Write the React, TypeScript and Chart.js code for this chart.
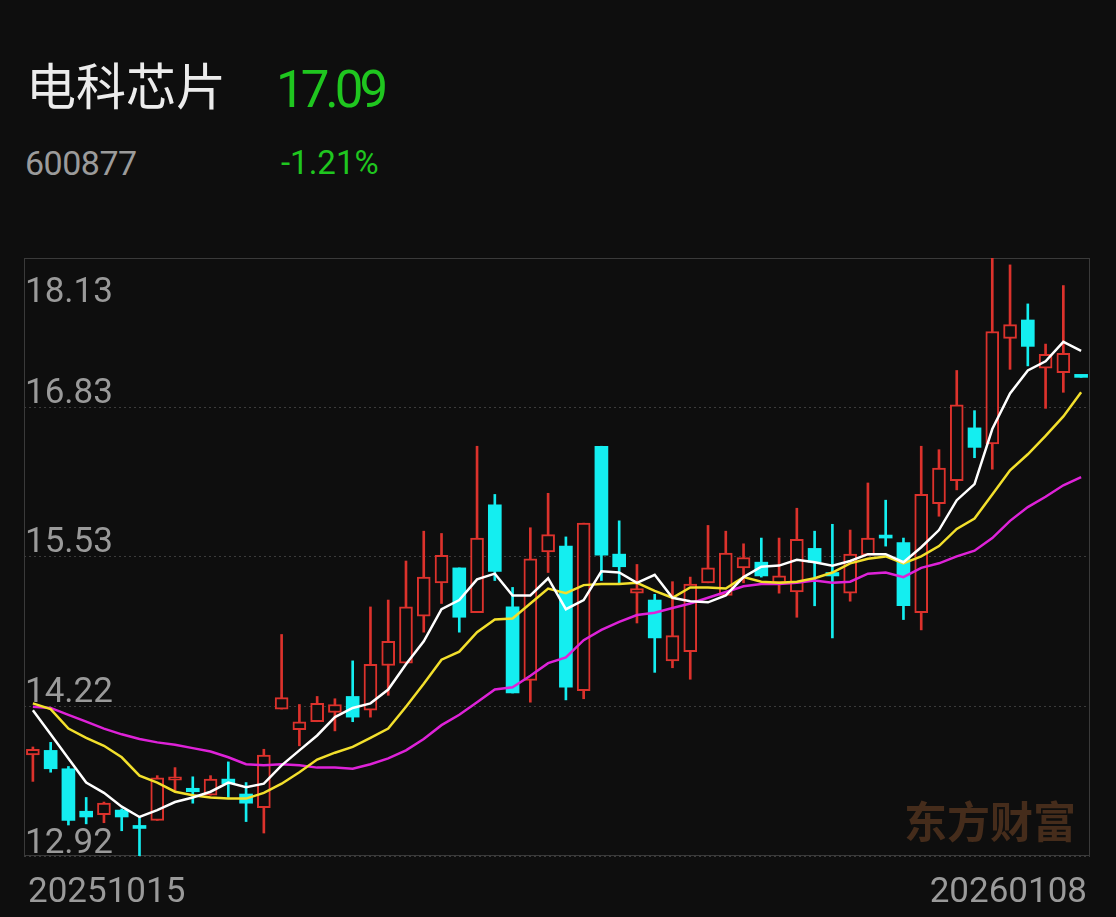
import React, { useEffect, useRef } from 'react';
import { Chart, registerables } from 'chart.js';

Chart.register(...registerables);

const stockName = '电科芯片';
const stockCode = '600877';
const lastPrice = '17.09';
const changePct = '-1.21%';
const watermark = '东方财富';

const dates = [
  '20251015', '20251016', '20251017', '20251020', '20251021', '20251022', '20251023', '20251024', '20251027', '20251028',
  '20251029', '20251030', '20251031', '20251103', '20251104', '20251105', '20251106', '20251107', '20251110', '20251111',
  '20251112', '20251113', '20251114', '20251117', '20251118', '20251119', '20251120', '20251121', '20251124', '20251125',
  '20251126', '20251127', '20251128', '20251201', '20251202', '20251203', '20251204', '20251205', '20251208', '20251209',
  '20251210', '20251211', '20251212', '20251215', '20251216', '20251217', '20251218', '20251219', '20251222', '20251223',
  '20251224', '20251225', '20251226', '20251229', '20251230', '20251231', '20260105', '20260106', '20260107', '20260108',
];

const opens = [
  13.80, 13.84, 13.68, 13.31, 13.28, 13.32, 13.18, 13.23, 13.58, 13.51,
  13.45, 13.59, 13.46, 13.34, 14.20, 14.02, 14.09, 14.17, 14.31, 14.19,
  14.58, 14.60, 15.01, 15.30, 15.43, 15.04, 15.98, 15.09, 14.45, 15.57,
  15.62, 14.36, 16.49, 15.55, 15.21, 15.15, 14.62, 14.70, 15.30, 15.19,
  15.43, 15.48, 15.30, 15.22, 15.60, 15.39, 15.21, 15.54, 15.70, 15.65,
  15.04, 15.99, 16.19, 16.65, 16.51, 17.43, 17.59, 17.17, 17.13, 17.09,
];
const highs = [
  13.87, 13.91, 13.70, 13.43, 13.39, 13.33, 13.26, 13.62, 13.69, 13.61,
  13.62, 13.74, 13.56, 13.85, 14.85, 14.24, 14.31, 14.29, 14.62, 15.09,
  15.15, 15.49, 15.75, 15.73, 15.43, 16.49, 16.07, 15.26, 15.78, 16.08,
  15.70, 15.82, 16.49, 15.84, 15.46, 15.20, 15.31, 15.35, 15.80, 15.75,
  15.64, 15.69, 15.69, 15.95, 15.75, 15.81, 15.76, 16.17, 16.02, 15.69,
  16.49, 16.46, 17.15, 16.80, 18.13, 18.07, 17.73, 17.38, 17.89, 17.09,
];
const lows = [
  13.57, 13.65, 13.19, 13.20, 13.21, 13.14, 12.92, 13.23, 13.49, 13.38,
  13.45, 13.43, 13.22, 13.12, 14.20, 13.88, 14.09, 14.01, 14.09, 14.13,
  14.32, 14.60, 14.87, 15.12, 14.87, 15.04, 15.32, 14.34, 14.26, 15.39,
  14.28, 14.29, 15.32, 15.30, 14.95, 14.52, 14.56, 14.46, 15.30, 15.19,
  15.30, 15.35, 15.21, 15.00, 15.10, 14.82, 15.14, 15.54, 15.62, 14.98,
  14.89, 15.88, 16.11, 16.39, 16.29, 17.16, 17.19, 16.82, 16.96, 17.09,
];
const closes = [
  13.85, 13.68, 13.23, 13.26, 13.38, 13.26, 13.16, 13.60, 13.61, 13.48,
  13.59, 13.55, 13.38, 13.80, 14.30, 14.09, 14.25, 14.24, 14.13, 14.59,
  14.79, 15.09, 15.35, 15.54, 15.00, 15.69, 15.40, 14.34, 15.51, 15.72,
  14.39, 15.82, 15.54, 15.44, 15.25, 14.82, 14.84, 15.29, 15.43, 15.56,
  15.52, 15.36, 15.36, 15.68, 15.48, 15.36, 15.55, 15.69, 15.69, 15.10,
  16.07, 16.30, 16.85, 16.48, 17.49, 17.55, 17.36, 17.29, 17.30, 17.09,
];

const ma5 = [
  14.19, 13.98, 13.77, 13.56, 13.47, 13.35, 13.26, 13.32, 13.39, 13.43,
  13.48, 13.56, 13.52, 13.55, 13.71, 13.84, 13.97, 14.13, 14.21, 14.25,
  14.37, 14.59, 14.79, 15.07, 15.15, 15.33, 15.38, 15.19, 15.19, 15.34,
  15.07, 15.15, 15.40, 15.39, 15.30, 15.37, 15.17, 15.14, 15.13, 15.19,
  15.35, 15.44, 15.45, 15.50, 15.48, 15.45, 15.49, 15.55, 15.55, 15.48,
  15.61, 15.76, 16.02, 16.16, 16.64, 16.95, 17.15, 17.23, 17.40, 17.32,
];
const ma10 = [
  14.25, 14.20, 14.03, 13.95, 13.88, 13.78, 13.62, 13.56, 13.48, 13.45,
  13.43, 13.42, 13.42, 13.47, 13.55, 13.65, 13.76, 13.82, 13.87, 13.95,
  14.03, 14.22, 14.42, 14.63, 14.70, 14.87, 14.98, 14.99, 15.12, 15.25,
  15.21, 15.28, 15.29, 15.29, 15.30, 15.23, 15.17, 15.26, 15.26, 15.25,
  15.35, 15.31, 15.30, 15.31, 15.34, 15.39, 15.47, 15.51, 15.53, 15.47,
  15.53, 15.62, 15.77, 15.86, 16.07, 16.28, 16.42, 16.58, 16.75, 16.96,
];
const ma20 = [
  14.22, 14.21, 14.15, 14.09, 14.03, 13.98, 13.94, 13.91, 13.89, 13.86,
  13.83, 13.78, 13.72, 13.71, 13.72, 13.71, 13.69, 13.69, 13.68, 13.72,
  13.77, 13.84, 13.94, 14.06, 14.15, 14.26, 14.37, 14.39, 14.49, 14.60,
  14.65, 14.80, 14.89, 14.96, 15.02, 15.04, 15.08, 15.12, 15.17, 15.22,
  15.27, 15.29, 15.29, 15.30, 15.32, 15.30, 15.31, 15.38, 15.39, 15.35,
  15.43, 15.47, 15.53, 15.58, 15.69, 15.84, 15.96, 16.05, 16.15, 16.22,
];

const yMin = 12.92;
const yMax = 18.13;
const yTickValues = [12.92, 14.2225, 15.525, 16.8275, 18.13];
const yTickLabels = ['12.92', '14.22', '15.53', '16.83', '18.13'];

const BG = '#0e0e0e';
const RED = '#dc322c';
const CYAN = '#14eef0';
const GREEN = '#1fc61f';
const FRAME = '#3a3a3a';
const GRID = '#3c3c3c';
const LABEL = '#9a9a9a';

const isUp = opens.map((o, i) => {
  const c = closes[i];
  if (c > o) return true;
  if (c < o) return false;
  return i > 0 ? c >= closes[i - 1] : true;
});

const overlayPlugin = {
  id: 'overlay',
  beforeDatasetsDraw(chart: any) {
    const { ctx, chartArea: a } = chart;
    ctx.save();
    ctx.font = 'bold 43px "Noto Sans CJK SC"';
    ctx.fillStyle = '#452c1b';
    ctx.textAlign = 'right';
    ctx.textBaseline = 'middle';
    ctx.fillText(watermark, a.right - 14, a.bottom - 34);
    ctx.strokeStyle = FRAME;
    ctx.lineWidth = 1;
    ctx.strokeRect(a.left + 0.5, a.top + 0.5, a.right - a.left - 1, a.bottom - a.top - 1);
    ctx.restore();
  },
  afterDraw(chart: any) {
    const { ctx, chartArea: a } = chart;
    const y = chart.scales.y;
    ctx.save();
    ctx.font = '35px Roboto';
    ctx.fillStyle = LABEL;
    ctx.textAlign = 'left';
    ctx.textBaseline = 'alphabetic';
    const last = yTickValues.length - 1;
    yTickValues.forEach((v, i) => {
      const py = y.getPixelForValue(v);
      let base = py - 5;
      if (i === last) base = py + 44;
      else if (i === 0) base = py - 3;
      ctx.fillText(yTickLabels[i], a.left + 1, base);
    });
    ctx.font = '35px Roboto';
    ctx.fillText(dates[0], a.left + 4, a.bottom + 46);
    ctx.textAlign = 'right';
    ctx.fillText(dates[dates.length - 1], a.right - 3, a.bottom + 46);
    ctx.restore();
  },
};

function CandleChart() {
  const ref = useRef<HTMLCanvasElement | null>(null);
  useEffect(() => {
    if (!ref.current) return;
    const chart = new Chart(ref.current, {
      type: 'bar',
      data: {
        labels: dates,
        datasets: [
          {
            type: 'line',
            label: 'MA5',
            data: ma5,
            borderColor: '#ffffff',
            borderWidth: 2.5,
            pointRadius: 0,
            tension: 0,
            order: 0,
          } as any,
          {
            type: 'line',
            label: 'MA10',
            data: ma10,
            borderColor: '#f2df2c',
            borderWidth: 2.5,
            pointRadius: 0,
            tension: 0,
            order: 1,
          } as any,
          {
            type: 'line',
            label: 'MA20',
            data: ma20,
            borderColor: '#de22d8',
            borderWidth: 2.5,
            pointRadius: 0,
            tension: 0,
            order: 2,
          } as any,
          {
            type: 'bar',
            label: 'body',
            data: dates.map((_, i) => [opens[i], closes[i]]),
            backgroundColor: isUp.map((u) => (u ? BG : CYAN)),
            borderColor: isUp.map((u) => (u ? RED : CYAN)),
            borderWidth: isUp.map((u) => (u ? 2 : 0)),
            borderSkipped: false,
            barThickness: 13,
            minBarLength: 3,
            grouped: false,
            order: 3,
          } as any,
          {
            type: 'bar',
            label: 'wick',
            data: dates.map((_, i) => [lows[i], highs[i]]),
            backgroundColor: isUp.map((u) => (u ? RED : CYAN)),
            borderWidth: 0,
            barThickness: 2,
            grouped: false,
            order: 4,
          } as any,
        ],
      },
      options: {
        responsive: false,
        animation: false,
        devicePixelRatio: 1,
        events: [],
        layout: { padding: { left: 24, right: 26, top: 258, bottom: 61 } },
        plugins: { legend: { display: false }, tooltip: { enabled: false } },
        scales: {
          x: { type: 'category', display: false, offset: true },
          y: {
            type: 'linear',
            min: yMin,
            max: yMax,
            display: true,
            ticks: { display: false },
            afterBuildTicks: (s: any) => {
              s.ticks = yTickValues.map((v) => ({ value: v }));
            },
            grid: { color: GRID, drawTicks: false, lineWidth: 1 },
            border: { display: false, dash: [2, 3] },
          },
        },
      } as any,
      plugins: [overlayPlugin],
    });
    return () => chart.destroy();
  }, []);
  return (
    <canvas
      ref={ref}
      width={1116}
      height={917}
      style={{ position: 'absolute', left: 0, top: 0, width: 1116, height: 917 }}
    />
  );
}

export default function App() {
  useEffect(() => {
    document.body.style.margin = '0';
    document.body.style.background = BG;
  }, []);
  const base: React.CSSProperties = { position: 'absolute', lineHeight: 1, whiteSpace: 'nowrap' };
  return (
    <div style={{ position: 'fixed', left: 0, top: 0, width: 1116, height: 917, background: BG, overflow: 'hidden' }}>
      <div style={{ ...base, left: 26, top: 58, fontSize: 50, color: '#ececec', fontFamily: '"Noto Sans CJK SC", sans-serif' }}>
        {stockName}
      </div>
      <div style={{ ...base, left: 276, top: 64, fontSize: 51, letterSpacing: -4, color: GREEN, fontFamily: 'Roboto, sans-serif' }}>
        {lastPrice}
      </div>
      <div style={{ ...base, left: 25, top: 146, fontSize: 34, letterSpacing: -0.5, color: '#9b9b9b', fontFamily: 'Roboto, sans-serif' }}>
        {stockCode}
      </div>
      <div style={{ ...base, left: 281, top: 146, fontSize: 33, color: GREEN, fontFamily: 'Roboto, sans-serif' }}>
        {changePct}
      </div>
      <CandleChart />
    </div>
  );
}
